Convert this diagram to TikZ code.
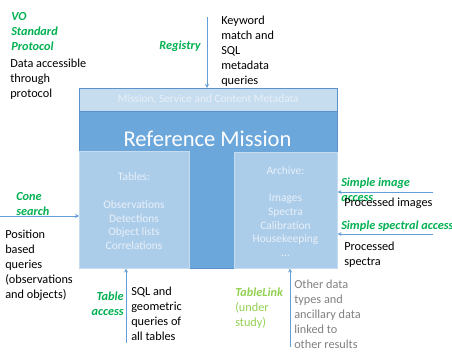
\documentclass[tikz,border=0pt]{standalone}
\usepackage{fontspec}
\setmainfont{Carlito}
\usetikzlibrary{arrows.meta,positioning}
\definecolor{missionblue}{RGB}{108,167,219}
\definecolor{barblue}{RGB}{198,221,240}
\definecolor{boxblue}{RGB}{172,205,234}
\definecolor{edgeblue}{RGB}{92,146,202}
\definecolor{linkblue}{RGB}{100,158,214}
\definecolor{paletext}{RGB}{232,240,248}
\definecolor{protogreen}{RGB}{0,176,80}
\definecolor{studygreen}{RGB}{146,208,80}
\definecolor{othergray}{RGB}{128,128,128}
\tikzset{
	block/.style={draw=edgeblue, line width=0.5pt, inner sep=0pt, anchor=north west},
	inbox/.style={fill=boxblue, draw=boxblue!70!white, line width=0.4pt, inner sep=0pt, anchor=north west},
	boxtext/.style={anchor=base, align=center, inner sep=0pt, text=paletext, font=\fontsize{8.6}{10.3}\selectfont},
	lbl/.style={anchor=base west, align=left, inner sep=0pt, font=\fontsize{9.2}{11.25}\selectfont},
	proto/.style={lbl, text=protogreen, font=\fontsize{9.2}{11.25}\selectfont\bfseries\itshape},
	link/.style={draw=linkblue, line width=0.6pt, -{Stealth[length=3pt,width=3pt]}},
}
\begin{document}
\begin{tikzpicture}[x=0.75pt,y=-0.75pt]
	\useasboundingbox (0,0) rectangle (452,352);
	% mission blocks (text nodes sit on the baseline of their last line)
	\node[block, fill=missionblue, minimum width=193.5pt, minimum height=135pt] (mission) at (79,88){};
	\node[block, fill=barblue, minimum width=193.5pt, minimum height=17pt] (bar) at (79,88){};
	\node[inbox, minimum width=82.5pt, minimum height=87.75pt] (tables) at (79,151){};
	\node[inbox, minimum width=77.25pt, minimum height=87pt] (archive) at (234,152){};
	\node[boxtext, anchor=center, font=\fontsize{8.5}{10}\selectfont] (meta) at (bar.center){Mission, Service and Content Metadata};
	\node[anchor=center, inner sep=0pt, text=white, font=\fontsize{16.9}{19}\selectfont] (title) at (207.5,139){Reference Mission};
	\node[boxtext] (tabtext) at (134,249.5){Tables:\\[10.3pt]Observations\\Detections\\Object lists\\Correlations};
	\node[boxtext] (arctext) at (285.5,256.5){Archive:\\[10.3pt]Images\\Spectra\\Calibration\\Housekeeping\\\ldots};
	% top
	\node[proto] (vo) at (11,50.5){VO\\Standard\\Protocol};
	\node[lbl] (dataacc) at (10,98){Data accessible\\through\\protocol};
	\node[proto, anchor=base east] (registry) at (201,49.5){Registry};
	\node[lbl] (keyword) at (221,84.5){Keyword\\match and\\SQL\\metadata\\queries};
	\coordinate (regstart) at (207,17);
	\draw[link] (regstart) -- (regstart|-bar.north);
	% left
	\node[proto] (cone) at (16,215.5){Cone\\search};
	\node[lbl] (position) at (5,298){Position\\based\\queries\\(observations\\and objects)};
	\coordinate (conestart) at (0,216);
	\draw[link] (conestart) -- (conestart-|tables.west);
	% right
	\node[proto] (imgacc) at (341,201.5){Simple image\\access};
	\node[lbl] (procimg) at (344,207){Processed images};
	\coordinate (imgstart) at (433,192);
	\draw[link] (imgstart) -- (imgstart-|archive.east);
	\node[proto] (specacc) at (341,229){Simple spectral access};
	\coordinate (specstart) at (433,234);
	\draw[link] (specstart) -- (specstart-|archive.east);
	\node[lbl] (procspec) at (344,265){Processed\\spectra};
	% bottom
	\node[proto, anchor=base east, align=right] (tabacc) at (124,315){Table\\access};
	\node[lbl] (sqlq) at (131,340.5){SQL and\\geometric\\queries of\\all tables};
	\coordinate (tabstart) at (126,343);
	\draw[link] (tabstart) -- (tabstart|-tables.south);
	\node[lbl, text=studygreen] (tablink) at (235,326){\textbf{\textit{TableLink}}\\(under\\study)};
	\node[lbl, text=othergray] (otherdata) at (294,348.5){Other data\\types and\\ancillary data\\linked to\\other results};
	\coordinate (linkstart) at (290,347);
	\draw[link] (linkstart) -- (linkstart|-archive.south);
\end{tikzpicture}
\end{document}
